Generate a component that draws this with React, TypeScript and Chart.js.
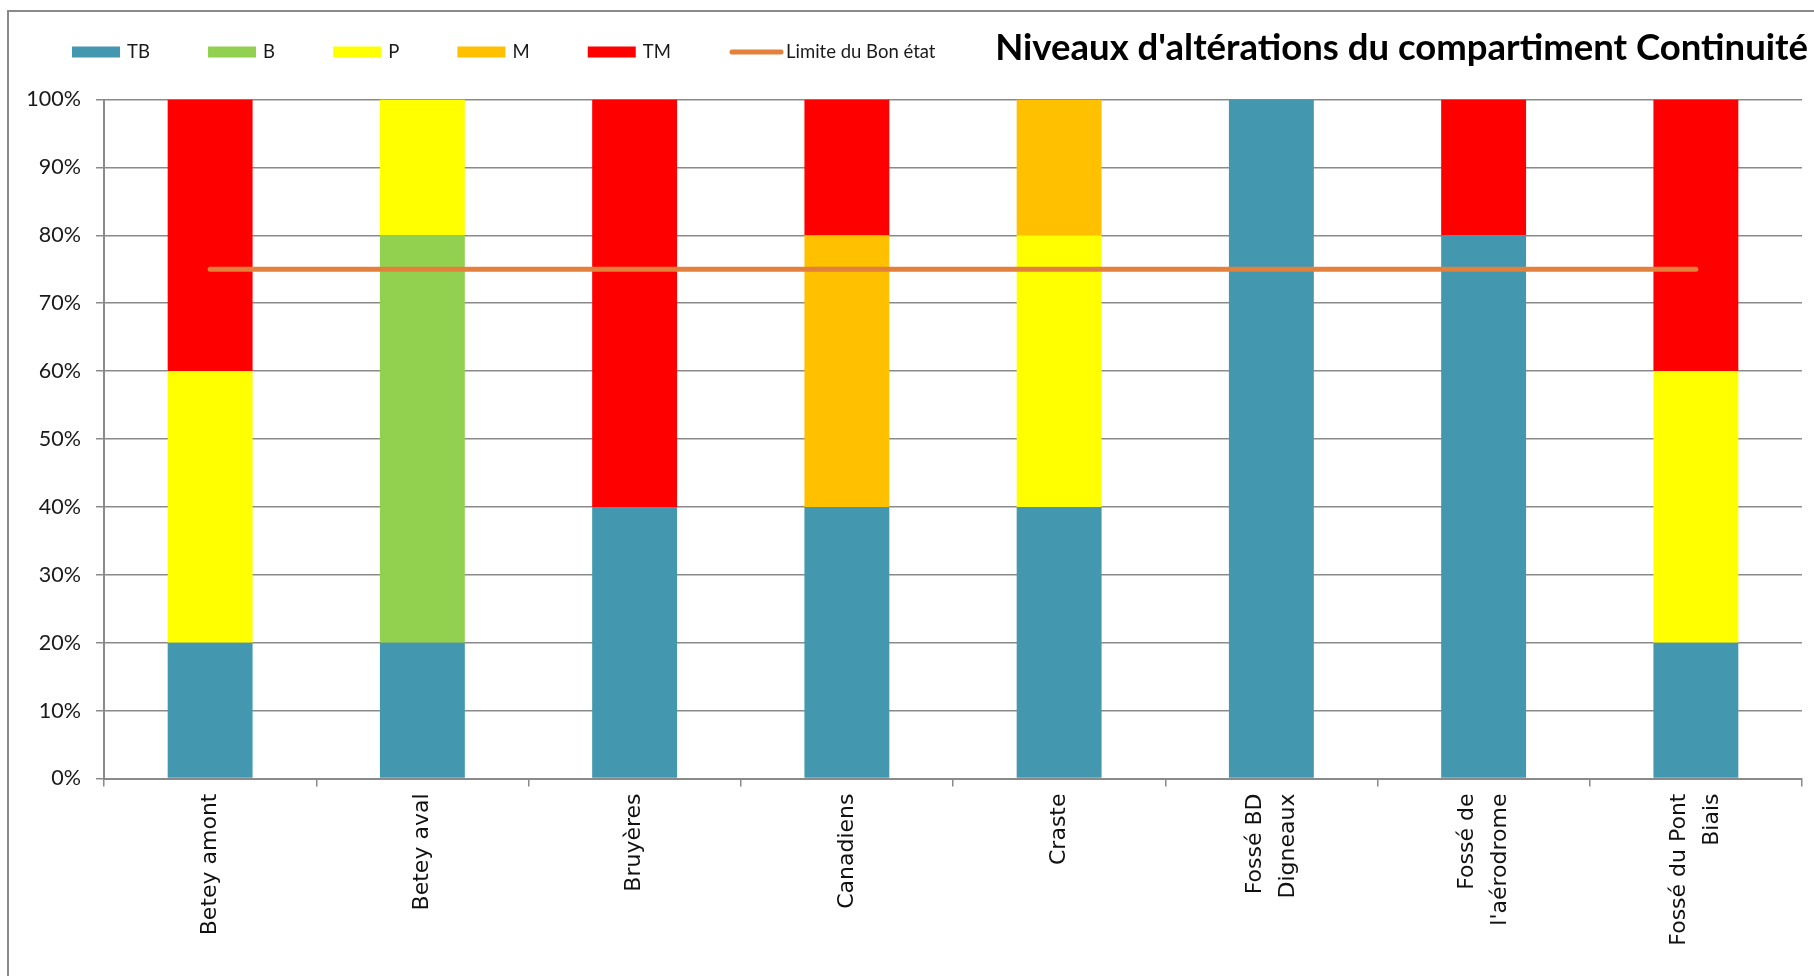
import React, { useEffect, useRef } from 'react';
import { Chart, registerables } from 'chart.js';

Chart.register(...registerables);

const categories: (string | string[])[] = [
  'Betey amont',
  'Betey aval',
  'Bruyères',
  'Canadiens',
  'Craste',
  ['Fossé BD', 'Digneaux'],
  ['Fossé de', "l'aérodrome"],
  ['Fossé du Pont', 'Biais'],
];

const tbValues = [20, 20, 40, 40, 40, 100, 80, 20];
const bValues = [0, 60, 0, 0, 0, 0, 0, 0];
const pValues = [40, 20, 0, 0, 40, 0, 0, 40];
const mValues = [0, 0, 0, 40, 20, 0, 0, 0];
const tmValues = [40, 0, 60, 20, 0, 0, 20, 40];
const limitValues = [75, 75, 75, 75, 75, 75, 75, 75];

const yTicks = [0, 10, 20, 30, 40, 50, 60, 70, 80, 90, 100];

const TITLE = "Niveaux d'altérations du compartiment Continuité";

const W = 1814;
const H = 976;
const X_FONT_SIZE = 22;
const X_LINE_HEIGHT = 33;
const GRID = '#8a8a8a';

const framePlugin = {
  id: 'frameTitleLegend',
  beforeDraw(chart: any) {
    const sx: any = chart.scales.x;
    if (sx && !sx.__patched && typeof sx._computeLabelItems === 'function') {
      const orig = sx._computeLabelItems.bind(sx);
      sx._computeLabelItems = (ca: any) => {
        const items = orig(ca);
        items.forEach((it: any) => {
          const n = Array.isArray(it.label) ? it.label.length : 1;
          if (n > 1) {
            const t = it.options.translation;
            it.options.translation = [t[0] - ((n - 1) * X_LINE_HEIGHT) / 2, t[1]];
          }
        });
        return items;
      };
      sx.__patched = true;
      sx._labelItems = null;
    }
  },
  afterDraw(chart: any) {
    const ctx = chart.ctx as CanvasRenderingContext2D;
    ctx.save();
    // frame
    ctx.strokeStyle = GRID;
    ctx.lineWidth = 2;
    ctx.beginPath();
    ctx.moveTo(8, H);
    ctx.lineTo(8, 11);
    ctx.lineTo(W, 11);
    ctx.stroke();

    // title
    ctx.fillStyle = '#000';
    ctx.textAlign = 'right';
    ctx.textBaseline = 'alphabetic';
    ctx.font = 'bold 30px Lato';
    const w30 = ctx.measureText(TITLE).width;
    const size = (30 * 813) / w30;
    ctx.font = `bold ${size.toFixed(2)}px Lato`;
    ctx.fillText(TITLE, 1808, 60);

    // legend
    ctx.font = '18.5px Lato';
    ctx.textAlign = 'left';
    ctx.textBaseline = 'middle';
    const ds = chart.data.datasets;
    const barIdx = [1, 2, 3, 4, 5];
    const startX = 72;
    const lineStart = 729;
    const textSum = barIdx.reduce((s, i) => s + ctx.measureText(ds[i].label).width, 0);
    const gap = (lineStart - startX - barIdx.length * 55 - textSum) / barIdx.length;
    let x = startX;
    const yMid = 52;
    barIdx.forEach((i) => {
      const d = ds[i];
      ctx.fillStyle = d.backgroundColor;
      ctx.fillRect(x, yMid - 5.5, 48, 11);
      ctx.fillStyle = '#1a1a1a';
      ctx.fillText(d.label, x + 55, yMid);
      x = x + 55 + ctx.measureText(d.label).width + gap;
    });
    const ld = ds[0];
    ctx.strokeStyle = ld.borderColor;
    ctx.lineWidth = 5;
    ctx.lineCap = 'round';
    ctx.beginPath();
    ctx.moveTo(x + 3, yMid);
    ctx.lineTo(x + 52, yMid);
    ctx.stroke();
    ctx.fillStyle = '#1a1a1a';
    ctx.fillText(ld.label, x + 57, yMid);
    ctx.restore();
  },
};

export default function App() {
  const ref = useRef<HTMLCanvasElement | null>(null);

  useEffect(() => {
    if (!ref.current) return;
    const chart = new Chart(ref.current, {
      type: 'bar',
      data: {
        labels: categories,
        datasets: [
          {
            type: 'line',
            label: 'Limite du Bon état',
            data: limitValues,
            borderColor: '#E2803C',
            backgroundColor: '#E2803C',
            borderWidth: 5,
            borderCapStyle: 'round',
            pointRadius: 0,
            stack: 'limit',
            order: -1,
          } as any,
          { label: 'TB', data: tbValues, backgroundColor: '#4398B0', stack: 'bars' },
          { label: 'B', data: bValues, backgroundColor: '#92D050', stack: 'bars' },
          { label: 'P', data: pValues, backgroundColor: '#FFFF00', stack: 'bars' },
          { label: 'M', data: mValues, backgroundColor: '#FFC000', stack: 'bars' },
          { label: 'TM', data: tmValues, backgroundColor: '#FF0000', stack: 'bars' },
        ],
      },
      options: {
        responsive: false,
        animation: false,
        devicePixelRatio: 1,
        layout: { padding: { top: 99.5, right: 12, left: 0, bottom: 0 } },
        datasets: {
          bar: { categoryPercentage: 1, barPercentage: 0.4, borderWidth: 0 },
        },
        plugins: {
          legend: { display: false },
          title: { display: false },
          tooltip: { enabled: false },
        },
        scales: {
          x: {
            stacked: true,
            offset: true,
            grid: {
              offset: true,
              drawOnChartArea: false,
              drawTicks: true,
              tickLength: 8,
              color: GRID,
              lineWidth: 1.5,
            },
            border: { display: true, color: GRID, width: 2 },
            ticks: {
              autoSkip: false,
              minRotation: 90,
              maxRotation: 90,
              padding: 7,
              color: '#111',
              font: { family: "'DejaVu Sans'", size: X_FONT_SIZE, lineHeight: X_LINE_HEIGHT / X_FONT_SIZE },
            },
            afterFit: (scale: any) => {
              scale.height = H - 778.5;
            },
          },
          y: {
            stacked: true,
            min: 0,
            max: 100,
            afterBuildTicks: (scale: any) => {
              scale.ticks = yTicks.map((v) => ({ value: v }));
            },
            grid: {
              color: GRID,
              lineWidth: 1.5,
              drawTicks: true,
              tickLength: 8,
            },
            border: { display: true, color: GRID, width: 2 },
            ticks: {
              padding: 15,
              color: '#1a1a1a',
              font: { family: 'Lato', size: 21.5 },
              callback: (v: any) => `${v}%`,
            },
            afterFit: (scale: any) => {
              scale.width = 104;
            },
          },
        },
      },
      plugins: [framePlugin],
    });
    return () => chart.destroy();
  }, []);

  return (
    <div style={{ position: 'fixed', left: 0, top: 0, width: W, height: H, background: '#fff' }}>
      <canvas ref={ref} width={W} height={H} style={{ display: 'block', width: W, height: H }} />
    </div>
  );
}
